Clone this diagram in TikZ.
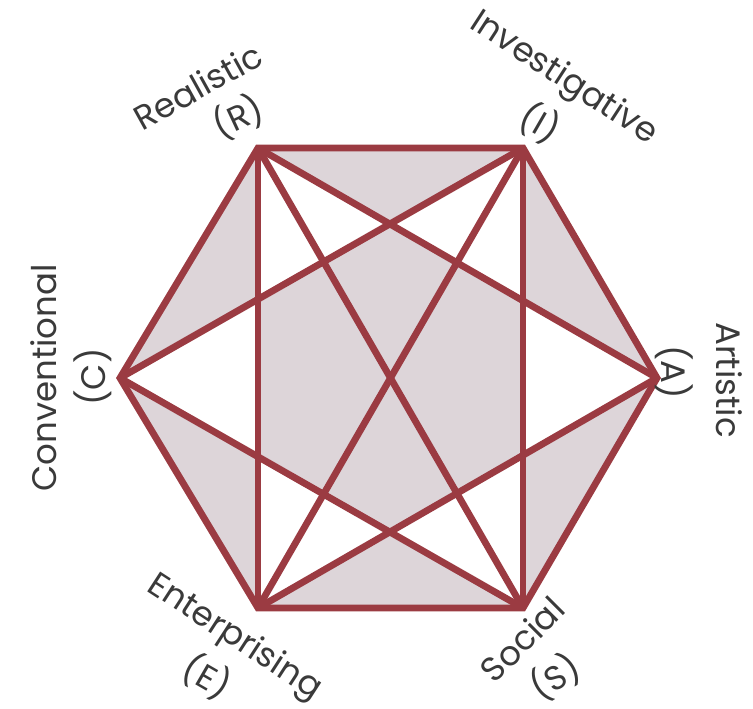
\documentclass[tikz,border=0pt]{standalone}
\usepackage{fontspec}
\setmainfont{Poppins}
\definecolor{edgecol}{HTML}{9B3B42}
\definecolor{shadecol}{HTML}{DDD5D9}
\definecolor{txtcol}{HTML}{3A3A3A}
\begin{document}
\begin{tikzpicture}[x=1pt,y=-1pt,
  conn/.style={draw=edgecol,line width=6.8pt},
  hole/.style={fill=white},
  lab/.style={text=txtcol,font=\fontsize{34}{36}\selectfont,inner sep=0pt}]
\useasboundingbox (0,0) rectangle (753,709);
\coordinate (R) at (258,148);
\coordinate (I) at (523,148);
\coordinate (A) at (657,378);
\coordinate (S) at (523,608);
\coordinate (E) at (258,608);
\coordinate (C) at (120,378);
\coordinate (T) at (intersection of R--A and I--C);
\coordinate (B) at (intersection of C--S and A--E);
\coordinate (LT) at (intersection of I--C and R--E);
\coordinate (LB) at (intersection of C--S and R--E);
\coordinate (RT) at (intersection of R--A and I--S);
\coordinate (RB) at (intersection of A--E and I--S);
% shading
\fill[shadecol] (R)--(I)--(A)--(S)--(E)--(C)--cycle;
\fill[hole] (R)--(T)--(LT)--cycle;
\fill[hole] (I)--(T)--(RT)--cycle;
\fill[hole] (C)--(LT)--(LB)--cycle;
\fill[hole] (A)--(RT)--(RB)--cycle;
\fill[hole] (E)--(B)--(LB)--cycle;
\fill[hole] (S)--(B)--(RB)--cycle;
% connectors
\draw[conn,line join=miter] (R)--(I)--(A)--(S)--(E)--(C)--cycle;
\draw[conn] (R)--(E);
\draw[conn] (I)--(S);
\draw[conn] (R)--(A);
\draw[conn] (I)--(C);
\draw[conn] (C)--(S);
\draw[conn] (A)--(E);
\draw[conn] (R)--(S);
\draw[conn] (I)--(E);
% labels
\node[lab,rotate=29] (lR) at (198,86) {Realistic};
\node[lab,rotate=25] (lR2) at (238,117) {(R)};
\node[lab,rotate=-33] (lI) at (563,79) {Investigative};
\node[lab,rotate=-30] (lI2) at (540,123) {(I)};
\node[lab,rotate=90] (lC) at (44,378) {Conventional};
\node[lab,rotate=90] (lC2) at (93,377) {(C)};
\node[lab,rotate=-90] (lA) at (729,380) {Artistic};
\node[lab,rotate=-90] (lA2) at (674,372) {(A)};
\node[lab,rotate=-33] (lE) at (234,638) {Enterprising};
\node[lab,rotate=-30] (lE2) at (207,677) {(E)};
\node[lab,rotate=45] (lS) at (522,639) {Social};
\node[lab,rotate=32] (lS2) at (555,677) {(S)};
\end{tikzpicture}
\end{document}
